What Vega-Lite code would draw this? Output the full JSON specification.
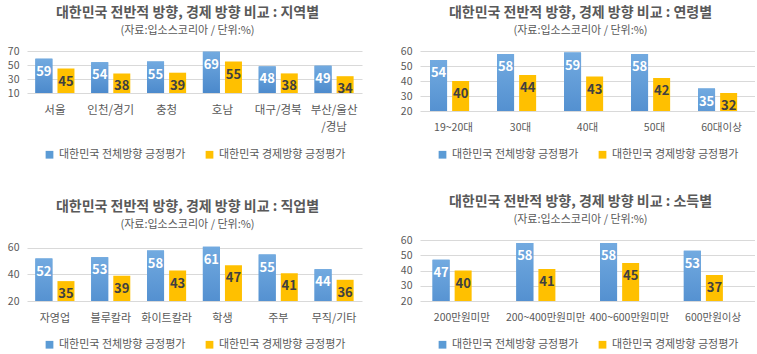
{
  "$schema": "https://vega.github.io/schema/vega-lite/v6.json",
  "padding": {"left": 5, "top": 6, "right": 0, "bottom": 0},
  "background": "white",
  "datasets": {
    "region": [
      {"cat": "서울", "s": "대한민국 전체방향 긍정평가", "v": 59},
      {"cat": "서울", "s": "대한민국 경제방향 긍정평가", "v": 45},
      {"cat": "인천/경기", "s": "대한민국 전체방향 긍정평가", "v": 54},
      {"cat": "인천/경기", "s": "대한민국 경제방향 긍정평가", "v": 38},
      {"cat": "충청", "s": "대한민국 전체방향 긍정평가", "v": 55},
      {"cat": "충청", "s": "대한민국 경제방향 긍정평가", "v": 39},
      {"cat": "호남", "s": "대한민국 전체방향 긍정평가", "v": 69},
      {"cat": "호남", "s": "대한민국 경제방향 긍정평가", "v": 55},
      {"cat": "대구/경북", "s": "대한민국 전체방향 긍정평가", "v": 48},
      {"cat": "대구/경북", "s": "대한민국 경제방향 긍정평가", "v": 38},
      {"cat": "부산/울산/경남", "s": "대한민국 전체방향 긍정평가", "v": 49},
      {"cat": "부산/울산/경남", "s": "대한민국 경제방향 긍정평가", "v": 34}
    ],
    "age": [
      {"cat": "19~20대", "s": "대한민국 전체방향 긍정평가", "v": 54},
      {"cat": "19~20대", "s": "대한민국 경제방향 긍정평가", "v": 40},
      {"cat": "30대", "s": "대한민국 전체방향 긍정평가", "v": 58},
      {"cat": "30대", "s": "대한민국 경제방향 긍정평가", "v": 44},
      {"cat": "40대", "s": "대한민국 전체방향 긍정평가", "v": 59},
      {"cat": "40대", "s": "대한민국 경제방향 긍정평가", "v": 43},
      {"cat": "50대", "s": "대한민국 전체방향 긍정평가", "v": 58},
      {"cat": "50대", "s": "대한민국 경제방향 긍정평가", "v": 42},
      {"cat": "60대이상", "s": "대한민국 전체방향 긍정평가", "v": 35},
      {"cat": "60대이상", "s": "대한민국 경제방향 긍정평가", "v": 32}
    ],
    "job": [
      {"cat": "자영업", "s": "대한민국 전체방향 긍정평가", "v": 52},
      {"cat": "자영업", "s": "대한민국 경제방향 긍정평가", "v": 35},
      {"cat": "블루칼라", "s": "대한민국 전체방향 긍정평가", "v": 53},
      {"cat": "블루칼라", "s": "대한민국 경제방향 긍정평가", "v": 39},
      {"cat": "화이트칼라", "s": "대한민국 전체방향 긍정평가", "v": 58},
      {"cat": "화이트칼라", "s": "대한민국 경제방향 긍정평가", "v": 43},
      {"cat": "학생", "s": "대한민국 전체방향 긍정평가", "v": 61},
      {"cat": "학생", "s": "대한민국 경제방향 긍정평가", "v": 47},
      {"cat": "주부", "s": "대한민국 전체방향 긍정평가", "v": 55},
      {"cat": "주부", "s": "대한민국 경제방향 긍정평가", "v": 41},
      {"cat": "무직/기타", "s": "대한민국 전체방향 긍정평가", "v": 44},
      {"cat": "무직/기타", "s": "대한민국 경제방향 긍정평가", "v": 36}
    ],
    "income": [
      {"cat": "200만원미만", "s": "대한민국 전체방향 긍정평가", "v": 47},
      {"cat": "200만원미만", "s": "대한민국 경제방향 긍정평가", "v": 40},
      {"cat": "200~400만원미만", "s": "대한민국 전체방향 긍정평가", "v": 58},
      {"cat": "200~400만원미만", "s": "대한민국 경제방향 긍정평가", "v": 41},
      {"cat": "400~600만원미만", "s": "대한민국 전체방향 긍정평가", "v": 58},
      {"cat": "400~600만원미만", "s": "대한민국 경제방향 긍정평가", "v": 45},
      {"cat": "600만원이상", "s": "대한민국 전체방향 긍정평가", "v": 53},
      {"cat": "600만원이상", "s": "대한민국 경제방향 긍정평가", "v": 37}
    ]
  },
  "vconcat": [
    {
      "hconcat": [
        {
          "width": 335, "height": 42,
          "title": {"text": "대한민국 전반적 방향, 경제 방향 비교 : 지역별", "subtitle": "(자료:입소스코리아 / 단위:%)"},
          "data": {"name": "region"},
          "encoding": {
            "x": {"field": "cat", "type": "nominal", "sort": null, "scale": {"paddingInner": 0.3, "paddingOuter": 0.15},
                  "axis": {"labelFontSize": 11.5, "labelExpr": "datum.label == '부산/울산/경남' ? ['부산/울산', '/경남'] : datum.label"}},
            "xOffset": {"field": "s", "type": "nominal", "sort": null, "scale": {"paddingInner": 0.23}},
            "y": {"field": "v", "type": "quantitative", "scale": {"domain": [10, 70], "zero": false, "nice": false}, "axis": {"values": [10, 30, 50, 70]}}
          },
          "layer": [
            {"mark": {"type": "bar", "clip": true}, "encoding": {"color": {"field": "s", "type": "nominal", "sort": null, "scale": {"range": ["#5B9BD5", "#FFC000"]}}}},
            {"transform": [{"filter": "datum.s == '대한민국 전체방향 긍정평가'"}], "mark": {"type": "bar", "clip": true, "color": {"gradient": "linear", "x1": 0, "y1": 0, "x2": 0, "y2": 1, "stops": [{"offset": 0, "color": "#72aae0"}, {"offset": 1, "color": "#4483c8"}]}}},
            {"mark": {"type": "text", "dy": 13, "baseline": "middle"}, "encoding": {"text": {"field": "v", "type": "quantitative"},
              "color": {"condition": {"test": "datum.s == '대한민국 전체방향 긍정평가'", "value": "#ffffff"}, "value": "#404040"}}}
          ]
        },
        {
          "width": 335, "height": 60,
          "title": {"text": "대한민국 전반적 방향, 경제 방향 비교 : 연령별", "subtitle": "(자료:입소스코리아 / 단위:%)"},
          "data": {"name": "age"},
          "encoding": {
            "x": {"field": "cat", "type": "nominal", "sort": null, "scale": {"paddingInner": 0.3, "paddingOuter": 0.15}, "axis": {"labelFontSize": 10.5}},
            "xOffset": {"field": "s", "type": "nominal", "sort": null, "scale": {"paddingInner": 0.23}},
            "y": {"field": "v", "type": "quantitative", "scale": {"domain": [20, 60], "zero": false, "nice": false}, "axis": {"values": [20, 30, 40, 50, 60]}}
          },
          "layer": [
            {"mark": {"type": "bar", "clip": true}, "encoding": {"color": {"field": "s", "type": "nominal", "sort": null, "scale": {"range": ["#5B9BD5", "#FFC000"]}}}},
            {"transform": [{"filter": "datum.s == '대한민국 전체방향 긍정평가'"}], "mark": {"type": "bar", "clip": true, "color": {"gradient": "linear", "x1": 0, "y1": 0, "x2": 0, "y2": 1, "stops": [{"offset": 0, "color": "#72aae0"}, {"offset": 1, "color": "#4483c8"}]}}},
            {"mark": {"type": "text", "dy": 13, "baseline": "middle"}, "encoding": {"text": {"field": "v", "type": "quantitative"},
              "color": {"condition": {"test": "datum.s == '대한민국 전체방향 긍정평가'", "value": "#ffffff"}, "value": "#404040"}}}
          ]
        }
      ],
      "spacing": 36,
      "resolve": {"scale": {"color": "independent", "x": "independent", "y": "independent"}, "legend": {"color": "independent"}}
    },
    {
      "hconcat": [
        {
          "width": 335, "height": 61,
          "title": {"text": "대한민국 전반적 방향, 경제 방향 비교 : 직업별", "subtitle": "(자료:입소스코리아 / 단위:%)"},
          "data": {"name": "job"},
          "encoding": {
            "x": {"field": "cat", "type": "nominal", "sort": null, "scale": {"paddingInner": 0.3, "paddingOuter": 0.15}, "axis": {"labelFontSize": 11}},
            "xOffset": {"field": "s", "type": "nominal", "sort": null, "scale": {"paddingInner": 0.23}},
            "y": {"field": "v", "type": "quantitative", "scale": {"domain": [20, 66], "zero": false, "nice": false}, "axis": {"values": [20, 40, 60]}}
          },
          "layer": [
            {"mark": {"type": "bar", "clip": true}, "encoding": {"color": {"field": "s", "type": "nominal", "sort": null, "scale": {"range": ["#5B9BD5", "#FFC000"]}}}},
            {"transform": [{"filter": "datum.s == '대한민국 전체방향 긍정평가'"}], "mark": {"type": "bar", "clip": true, "color": {"gradient": "linear", "x1": 0, "y1": 0, "x2": 0, "y2": 1, "stops": [{"offset": 0, "color": "#72aae0"}, {"offset": 1, "color": "#4483c8"}]}}},
            {"mark": {"type": "text", "dy": 13, "baseline": "middle"}, "encoding": {"text": {"field": "v", "type": "quantitative"},
              "color": {"condition": {"test": "datum.s == '대한민국 전체방향 긍정평가'", "value": "#ffffff"}, "value": "#404040"}}}
          ]
        },
        {
          "width": 335, "height": 61,
          "title": {"text": "대한민국 전반적 방향, 경제 방향 비교 : 소득별", "subtitle": "(자료:입소스코리아 / 단위:%)"},
          "data": {"name": "income"},
          "encoding": {
            "x": {"field": "cat", "type": "nominal", "sort": null, "scale": {"paddingInner": 0.3, "paddingOuter": 0.15}, "axis": {"labelFontSize": 10.5}},
            "xOffset": {"field": "s", "type": "nominal", "sort": null, "scale": {"paddingInner": 0.23}},
            "y": {"field": "v", "type": "quantitative", "scale": {"domain": [20, 60], "zero": false, "nice": false}, "axis": {"values": [20, 30, 40, 50, 60]}}
          },
          "layer": [
            {"mark": {"type": "bar", "clip": true}, "encoding": {"color": {"field": "s", "type": "nominal", "sort": null, "scale": {"range": ["#5B9BD5", "#FFC000"]}}}},
            {"transform": [{"filter": "datum.s == '대한민국 전체방향 긍정평가'"}], "mark": {"type": "bar", "clip": true, "color": {"gradient": "linear", "x1": 0, "y1": 0, "x2": 0, "y2": 1, "stops": [{"offset": 0, "color": "#72aae0"}, {"offset": 1, "color": "#4483c8"}]}}},
            {"mark": {"type": "text", "dy": 13, "baseline": "middle"}, "encoding": {"text": {"field": "v", "type": "quantitative"},
              "color": {"condition": {"test": "datum.s == '대한민국 전체방향 긍정평가'", "value": "#ffffff"}, "value": "#404040"}}}
          ]
        }
      ],
      "spacing": 36,
      "resolve": {"scale": {"color": "independent", "x": "independent", "y": "independent"}, "legend": {"color": "independent"}}
    }
  ],
  "spacing": 35,
  "resolve": {"scale": {"color": "independent", "x": "independent", "y": "independent"}, "legend": {"color": "independent"}},
  "config": {
    "font": "Noto Sans CJK KR",
    "view": {"stroke": null},
    "title": {"fontSize": 14, "fontWeight": "bold", "color": "#595959", "subtitleFontSize": 11, "subtitleColor": "#595959", "subtitlePadding": 5, "anchor": "middle", "offset": 10, "dx": -7},
    "text": {"fontSize": 13, "fontWeight": "bold"},
    "axisX": {"domain": false, "ticks": false, "grid": false, "labelAngle": 0, "labelPadding": 11, "labelFontSize": 11, "labelColor": "#595959", "title": null, "labelLineHeight": 17},
    "axisY": {"domain": false, "ticks": false, "gridColor": "#D9D9D9", "labelPadding": 8, "labelFontSize": 10.5, "labelColor": "#595959", "title": null, "minExtent": 22, "maxExtent": 22},
    "legend": {"orient": "bottom", "direction": "horizontal", "title": null, "symbolType": "square", "symbolSize": 60, "symbolStrokeWidth": 0, "labelFontSize": 11, "labelColor": "#595959", "columnPadding": 18, "offset": 16, "layout": {"bottom": {"anchor": "middle"}}}
  }
}
